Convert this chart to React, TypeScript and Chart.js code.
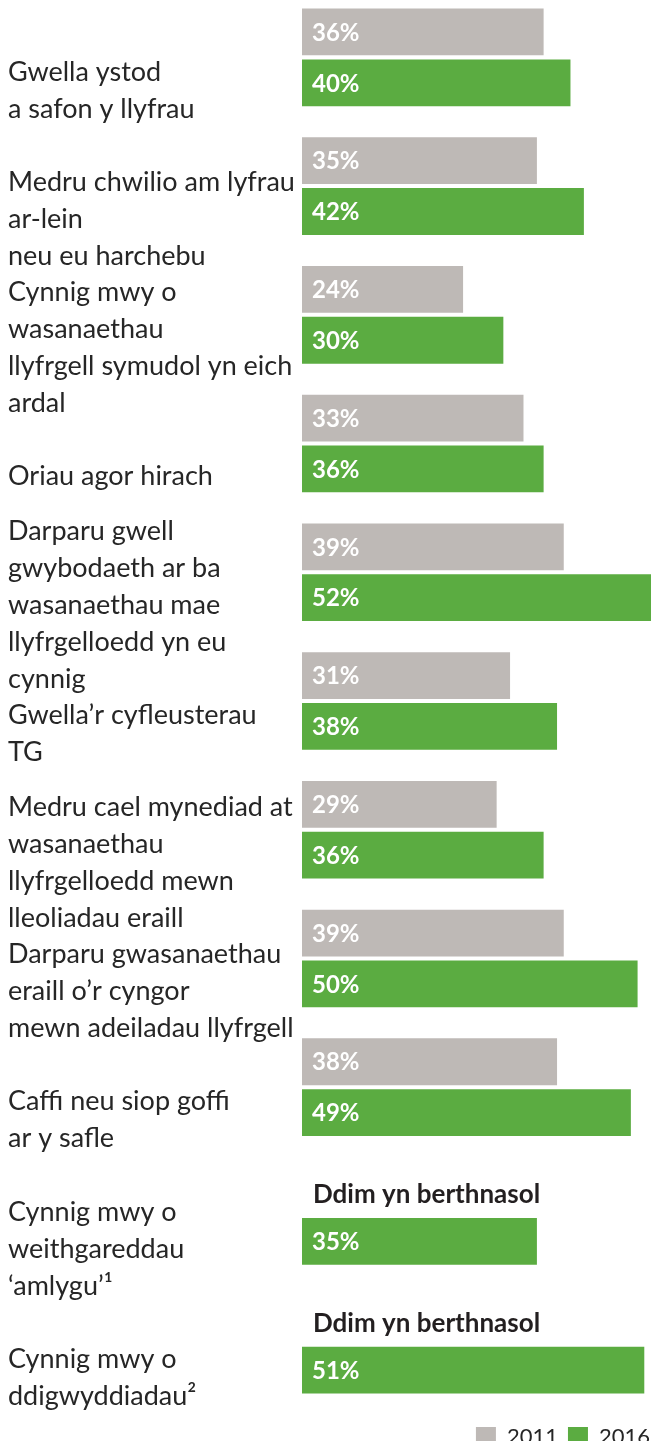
import React, { useEffect, useRef } from "react";
import { Chart, registerables } from "chart.js";

Chart.register(...registerables);

const categories: (string | string[])[] = [
  ["Gwella ystod", "a safon y llyfrau"],
  ["Medru chwilio am lyfrau", "ar-lein", "neu eu harchebu"],
  ["Cynnig mwy o", "wasanaethau", "llyfrgell symudol yn eich", "ardal"],
  "Oriau agor hirach",
  ["Darparu gwell", "gwybodaeth ar ba", "wasanaethau mae", "llyfrgelloedd yn eu", "cynnig"],
  ["Gwella’r cyfleusterau", "TG"],
  ["Medru cael mynediad at", "wasanaethau", "llyfrgelloedd mewn", "lleoliadau eraill"],
  ["Darparu gwasanaethau", "eraill o’r cyngor", "mewn adeiladau llyfrgell"],
  ["Caffi neu siop goffi", "ar y safle"],
  ["Cynnig mwy o", "weithgareddau", "‘amlygu’¹"],
  ["Cynnig mwy o", "ddigwyddiadau²"],
];

const values2011: (number | null)[] = [36, 35, 24, 33, 39, 31, 29, 39, 38, null, null];
const values2016: number[] = [40, 42, 30, 36, 52, 38, 36, 50, 49, 35, 51];

const seriesNames = ["2011", "2016"];
const notApplicableText = "Ddim yn berthnasol";

const GRAY = "#BEB9B6";
const GREEN = "#5BAC41";
const TEXT = "#262626";

const valueLabels = {
  id: "valueLabels",
  afterDatasetsDraw(chart: any) {
    const ctx = chart.ctx;
    const xScale = chart.scales.x;
    const base = xScale.getPixelForValue(0);
    ctx.save();
    ctx.textAlign = "left";
    ctx.textBaseline = "middle";
    chart.data.datasets.forEach((ds: any, di: number) => {
      const meta = chart.getDatasetMeta(di);
      meta.data.forEach((bar: any, i: number) => {
        const v = ds.data[i];
        if (v === null || v === undefined) {
          ctx.font = "bold 26px Lato";
          ctx.fillStyle = "#231F20";
          ctx.fillText(notApplicableText, base + 11, bar.y + 4);
        } else {
          ctx.font = "bold 24px Lato";
          ctx.fillStyle = "#FFFFFF";
          ctx.fillText(v + "%", base + 10, bar.y + 1);
        }
      });
    });
    ctx.restore();
  },
};

export default function App() {
  const ref = useRef<HTMLCanvasElement | null>(null);

  useEffect(() => {
    if (!ref.current) return;
    const chart = new Chart(ref.current, {
      type: "bar",
      data: {
        labels: categories,
        datasets: [
          {
            label: seriesNames[0],
            data: values2011,
            backgroundColor: GRAY,
            borderWidth: 0,
            categoryPercentage: 0.79,
            barPercentage: 0.92,
          },
          {
            label: seriesNames[1],
            data: values2016,
            backgroundColor: GREEN,
            borderWidth: 0,
            categoryPercentage: 0.79,
            barPercentage: 0.92,
          },
        ],
      },
      options: {
        indexAxis: "y",
        animation: false,
        responsive: false,
        devicePixelRatio: 1,
        layout: { padding: { left: 8, right: 2, top: 0, bottom: 0 } },
        scales: {
          x: {
            min: 0,
            max: 53.34,
            display: true,
            grid: { display: false },
            border: { display: false },
            ticks: { display: false },
            afterFit: (s: any) => {
              s.height = 7;
              s.paddingLeft = 0;
              s.paddingRight = 0;
            },
          },
          y: {
            grid: { display: false },
            border: { display: false },
            ticks: {
              autoSkip: false,
              crossAlign: "far",
              padding: 0,
              labelOffset: 33,
              color: TEXT,
              font: { family: "Lato", size: 27, lineHeight: 1.37 },
            },
            afterFit: (s: any) => {
              s.width = 294;
              s.paddingTop = 0;
              s.paddingBottom = 0;
            },
          },
        },
        plugins: {
          tooltip: { enabled: false },
          legend: {
            position: "bottom",
            align: "end",
            labels: {
              boxWidth: 20,
              boxHeight: 20,
              padding: 10,
              color: TEXT,
              font: { family: "Lato", size: 22 },
            },
          },
        },
      } as any,
      plugins: [valueLabels],
    });
    return () => chart.destroy();
  }, []);

  return (
    <div
      style={{
        position: "absolute",
        top: -7,
        left: 0,
        width: 653,
        height: 1448,
        overflow: "hidden",
        background: "#fff",
      }}
    >
      <canvas ref={ref} width={662} height={1465} style={{ display: "block" }} />
    </div>
  );
}
